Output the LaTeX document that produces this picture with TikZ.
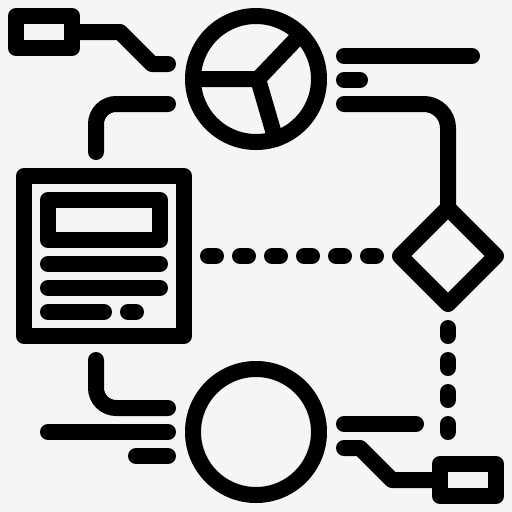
\documentclass[tikz,border=0pt]{standalone}
\usetikzlibrary{shapes.geometric}
\definecolor{bgcol}{RGB}{245,245,245}
\begin{document}
\begin{tikzpicture}[x=1pt,y=-1pt,
  ink/.style={line width=16pt, line cap=round, line join=round, draw=black},
  ring/.style={ink, circle, minimum size=126pt, inner sep=0pt, outer sep=0pt},
  box/.style={ink, rectangle, inner sep=0pt, outer sep=0pt},
  dotline/.style={ink, dash pattern=on 8pt off 24pt},
]
\fill[bgcol] (0,0) rectangle (512,512);
\useasboundingbox (0,0) rectangle (512,512);

% main shapes
\node[ring] (pie) at (256,79) {};
\node[ring] (disc) at (256,432) {};
\node[ink, diamond, minimum width=96pt, minimum height=96pt, inner sep=0pt, outer sep=0pt] (dec) at (448,256) {};
\node[box, minimum width=160pt, minimum height=160pt] (doc) at (104,256) {};
\node[box, minimum width=112pt, minimum height=40pt] (title) at (104,220) {};
\node[box, minimum width=56pt, minimum height=32pt] (tag1) at (44,32) {};
\node[box, minimum width=56pt, minimum height=32pt] (tag2) at (468,480) {};

% pie segments
\coordinate (pc) at (258,79);
\draw[ink] (pie.west) -- (pc) -- (pie.45);
\draw[ink] (pc) -- (pie.-72);

% document text lines
\draw[ink] (48,264) -- (160,264);
\draw[ink] (48,288) -- (160,288);
\draw[ink] (48,312) -- (104,312);
\draw[ink] (128,312) -- (136,312);

% connectors
\draw[ink] (tag1.east) -- ++(48,0) -- ++(32,32) -- ++(16,0);
\draw[ink, rounded corners=20pt] (96,152) -- (96,104) -- (168,104);
\draw[ink] (344,56) -- (472,56);
\draw[ink] (344,80) -- (360,80);
\draw[ink, rounded corners=24pt] (344,104) -- (448,104) -- (dec.north);
\draw[dotline] (208,256) -- (380,256);
\draw[dotline] (448,328) -- (448,434);
\draw[ink, rounded corners=20pt] (96,360) -- (96,408) -- (168,408);
\draw[ink] (48,432) -- (168,432);
\draw[ink] (136,456) -- (168,456);
\draw[ink] (344,424) -- (416,424);
\draw[ink] (344,448) -- (360,448) -- (392,480) -- (tag2.west);
\end{tikzpicture}
\end{document}
